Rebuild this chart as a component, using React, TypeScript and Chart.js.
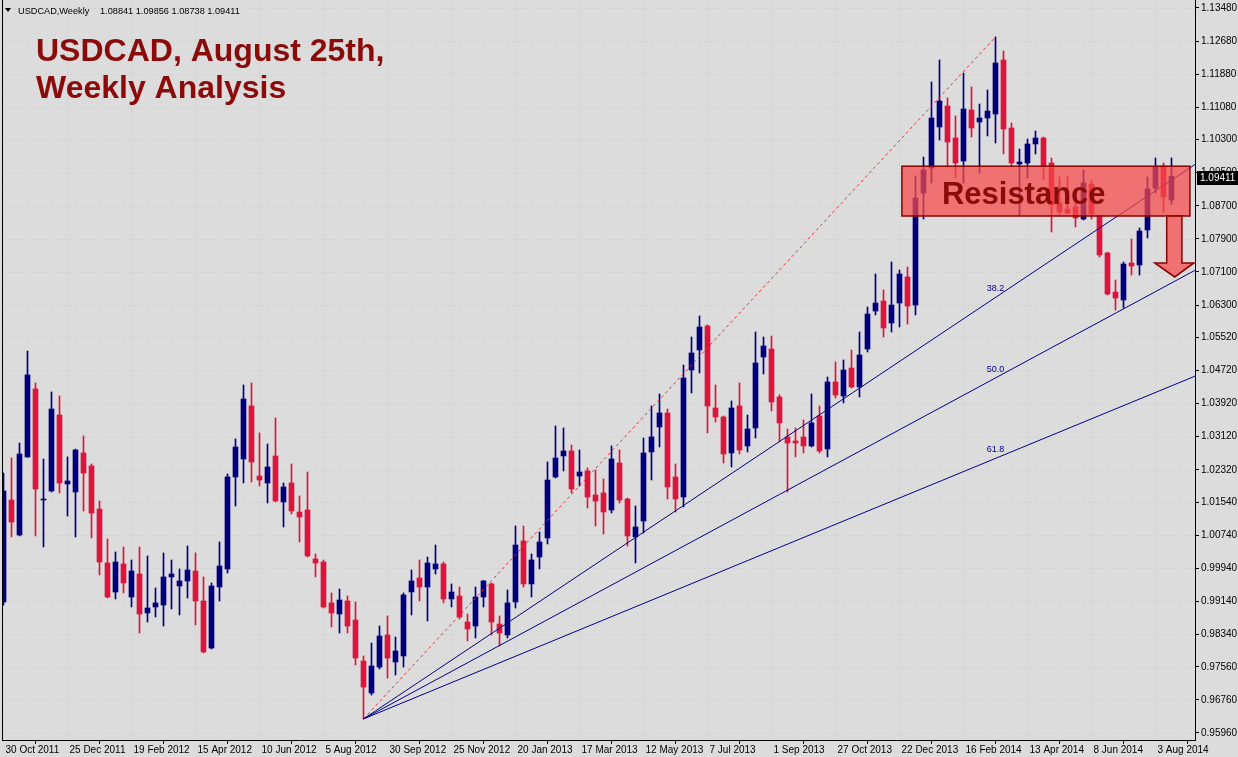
import React, { useEffect, useRef } from 'react';
import { Chart, registerables } from 'chart.js';

Chart.register(...registerables);

// Weekly USDCAD candles, first week = 30 Oct 2011 (index 0), last = 17 Aug 2014
const OPEN = [
  0.99126, 1.0159, 1.00745, 1.0263, 1.04273, 1.0159, 1.01808, 1.03644, 1.01977, 1.01784,
  1.02727, 1.02412, 1.01372, 1.00068, 0.99367, 1.00044, 0.99246, 0.99802, 0.9886, 0.99005,
  0.99053, 0.9973, 0.99512, 0.99633, 0.99874, 0.9915, 0.98013, 0.99488, 0.99923, 1.02146,
  1.02581, 1.03862, 1.0217, 1.02001, 1.02654, 1.01542, 1.02001, 1.013, 1.01348, 1.00165,
  1.00092, 0.99102, 0.98835, 0.9915, 0.9869, 0.97699, 0.96926, 0.97554, 0.98328, 0.97675,
  0.9782, 0.99367, 0.99705, 0.99488, 0.99923, 1.00044, 0.99198, 0.9927, 0.98642, 0.98545,
  0.99246, 0.99561, 0.98594, 0.98328, 0.99126, 1.006, 0.99561, 1.00213, 1.00672, 1.02146,
  1.02654, 1.02775, 1.0217, 1.02291, 1.01711, 1.0176, 1.01348, 1.02484, 1.01614, 1.00697,
  1.01082, 1.02751, 1.03355, 1.03693, 1.02146, 1.01663, 1.04732, 1.05215, 1.05795, 1.03814,
  1.03596, 1.02727, 1.03862, 1.02896, 1.03331, 1.05046, 1.05239, 1.04079, 1.03113, 1.03017,
  1.03113, 1.02896, 1.0362, 1.02823, 1.04442, 1.04104, 1.0478, 1.04321, 1.05239, 1.06157,
  1.06399, 1.05868, 1.0635, 1.06979, 1.06302, 1.09009, 1.09613, 1.10604, 1.11111, 1.10338,
  1.09782, 1.11015, 1.10725, 1.10821, 1.10918, 1.12223, 1.1058, 1.0971, 1.09734, 1.10193,
  1.10338, 1.09734, 1.08767, 1.08622, 1.08671, 1.08381, 1.09227, 1.08453, 1.07559, 1.06616,
  1.06423, 1.07317, 1.07269, 1.08115, 1.0913, 1.09661, 1.08841,
];
const HIGH = [
  1.02242, 1.02605, 1.02968, 1.05191, 1.04418, 1.02581, 1.04201, 1.04104, 1.0263, 1.0282,
  1.03138, 1.0246, 1.01566, 1.00648, 1.00334, 1.00455, 1.0014, 1.00455, 1.00237, 0.99464,
  1.0031, 1.0014, 0.99923, 1.00479, 1.0031, 0.9973, 0.99585, 1.00576, 1.02218, 1.03065,
  1.0437, 1.04418, 1.0321, 1.02944, 1.03572, 1.02001, 1.0246, 1.01687, 1.02267, 1.00286,
  1.0014, 0.99343, 0.9944, 0.9927, 0.99126, 0.9782, 0.98134, 0.98545, 0.98787, 0.98279,
  0.99343, 0.99899, 1.0014, 1.00213, 1.00503, 1.00092, 0.99561, 0.99488, 0.98835, 0.99488,
  0.9965, 0.99585, 0.98787, 0.99416, 1.00962, 1.00962, 1.00286, 1.00817, 1.02509, 1.03379,
  1.03331, 1.0292, 1.02799, 1.02364, 1.02315, 1.02098, 1.02896, 1.02799, 1.01638, 1.01445,
  1.03089, 1.03862, 1.04152, 1.03789, 1.0246, 1.04853, 1.05529, 1.06037, 1.05819, 1.0437,
  1.0362, 1.03983, 1.04418, 1.03644, 1.0565, 1.05529, 1.05553, 1.04128, 1.03306, 1.03331,
  1.03524, 1.04152, 1.03862, 1.04563, 1.04925, 1.04974, 1.05215, 1.0565, 1.06254, 1.07052,
  1.06665, 1.07342, 1.07148, 1.07221, 1.0942, 1.09879, 1.11691, 1.12223, 1.11305, 1.1087,
  1.11909, 1.11571, 1.1116, 1.11498, 1.1278, 1.12441, 1.10701, 1.10073, 1.10314, 1.10507,
  1.10362, 1.09855, 1.09396, 1.0942, 1.0884, 1.09565, 1.09323, 1.08477, 1.0758, 1.06907,
  1.07342, 1.07897, 1.08163, 1.09396, 1.09855, 1.09734, 1.09856,
];
const LOW = [
  0.99053, 1.00697, 1.00721, 1.0262, 1.00721, 1.00455, 1.01784, 1.0176, 1.01203, 1.00697,
  1.01324, 1.00673, 0.99778, 0.99222, 0.99198, 0.99343, 0.99005, 0.98376, 0.98642, 0.98763,
  0.98545, 0.98957, 0.98811, 0.99222, 0.98569, 0.97893, 0.97989, 0.9915, 0.99826, 1.01445,
  1.02001, 1.02025, 1.01929, 1.01518, 1.01545, 1.00939, 1.01251, 1.00576, 1.00213, 0.9973,
  0.98981, 0.98521, 0.98376, 0.98376, 0.97603, 0.963, 0.96878, 0.97506, 0.97289, 0.97361,
  0.97554, 0.98811, 0.9915, 0.98666, 0.99802, 0.99102, 0.99005, 0.98714, 0.98183, 0.98255,
  0.99005, 0.98328, 0.98062, 0.98255, 0.98981, 0.99488, 0.99246, 0.99923, 1.00527, 1.02122,
  1.02291, 1.0176, 1.01929, 1.01397, 1.00962, 1.00769, 1.01276, 1.01518, 1.00479, 1.00068,
  1.00793, 1.02073, 1.02871, 1.01614, 1.013, 1.01421, 1.04176, 1.0466, 1.0321, 1.03475,
  1.02484, 1.02388, 1.02702, 1.02751, 1.03089, 1.04635, 1.03741, 1.02992, 1.01784, 1.0263,
  1.02727, 1.02871, 1.02727, 1.0263, 1.04055, 1.03935, 1.04297, 1.04079, 1.05167, 1.06061,
  1.05529, 1.0565, 1.05771, 1.05843, 1.06061, 1.08381, 1.09251, 1.1029, 1.09637, 1.09371,
  1.09251, 1.10362, 1.09492, 1.10387, 1.10217, 1.09952, 1.09637, 1.08477, 1.09371, 1.09952,
  1.09323, 1.08067, 1.08477, 1.0851, 1.08187, 1.08357, 1.08381, 1.07462, 1.06544, 1.06182,
  1.0623, 1.07027, 1.07027, 1.07922, 1.09009, 1.0855, 1.08738,
];
const CLOSE = [
  1.01808, 1.01058, 1.02702, 1.04612, 1.01856, 1.01614, 1.03789, 1.02001, 1.0205, 1.02799,
  1.02242, 1.01275, 1.00092, 0.99246, 1.00092, 0.99585, 0.99874, 0.98835, 0.98981, 0.99102,
  0.9973, 0.99802, 0.99633, 0.99899, 0.9915, 0.97917, 0.99512, 0.99995, 1.02146, 1.02871,
  1.04031, 1.02509, 1.02073, 1.02388, 1.01566, 1.01905, 1.01324, 1.01179, 1.00237, 1.00068,
  0.99005, 0.9886, 0.99174, 0.98545, 0.97772, 0.9707, 0.97579, 0.98303, 0.97772, 0.97941,
  0.99295, 0.99633, 0.99488, 1.00068, 1.00044, 0.99198, 0.99367, 0.98763, 0.98473, 0.99246,
  0.99633, 0.98642, 0.98376, 0.99102, 1.00503, 0.99561, 1.0014, 1.00576, 1.02073, 1.02605,
  1.02775, 1.01856, 1.02267, 1.01663, 1.01566, 1.013, 1.02581, 1.0159, 1.00721, 1.00938,
  1.02727, 1.03114, 1.03693, 1.01905, 1.01614, 1.04539, 1.05143, 1.05771, 1.03862, 1.03596,
  1.02702, 1.03814, 1.02799, 1.03306, 1.04901, 1.05312, 1.03959, 1.03451, 1.02968, 1.02968,
  1.02896, 1.03451, 1.02775, 1.04442, 1.04128, 1.04732, 1.04321, 1.05094, 1.06085, 1.0635,
  1.05747, 1.06302, 1.07052, 1.06278, 1.08888, 1.09565, 1.10821, 1.11232, 1.10241, 1.09734,
  1.11039, 1.1058, 1.10821, 1.1099, 1.12151, 1.10556, 1.09734, 1.09758, 1.10193, 1.10338,
  1.09661, 1.08719, 1.0855, 1.08526, 1.08405, 1.09251, 1.08502, 1.07511, 1.06568, 1.06471,
  1.07293, 1.07245, 1.08091, 1.09106, 1.09637, 1.08912, 1.09411,
];

const X_TICK_INDEX = [0, 8, 16, 24, 32, 40, 48, 56, 64, 72, 80, 88, 96, 104, 112, 120, 128, 136, 144];
const X_TICK_LABELS = [
  '30 Oct 2011', '25 Dec 2011', '19 Feb 2012', '15 Apr 2012', '10 Jun 2012', '5 Aug 2012',
  '30 Sep 2012', '25 Nov 2012', '20 Jan 2013', '17 Mar 2013', '12 May 2013', '7 Jul 2013',
  '1 Sep 2013', '27 Oct 2013', '22 Dec 2013', '16 Feb 2014', '13 Apr 2014', '8 Jun 2014', '3 Aug 2014',
];
const Y_TICKS = [
  1.1348, 1.1268, 1.1188, 1.1108, 1.103, 1.095, 1.087, 1.079, 1.071, 1.063, 1.0552, 1.0472,
  1.0392, 1.0312, 1.0232, 1.0154, 1.0074, 0.9994, 0.9914, 0.9834, 0.9756, 0.9676, 0.9596,
];

// Fibonacci fan: from the Sep 2012 low to the Mar 2014 high
const FAN_FROM = { index: 45, price: 0.963 };
const FAN_TO = { index: 124, price: 1.1278 };
const FAN_LEVELS = [38.2, 50.0, 61.8];

// visible range of the axes
const X_MIN = -0.1875;
const X_MAX = 148.9375;
const Y_MIN = 0.9579;
const Y_MAX = 1.13673;

// resistance zone annotation (bar index / price)
const ZONE = { from: 112.3, to: 148.3, top: 1.09657, bottom: 1.08453 };
const ARROW = { shaftLeft: 145.4, shaftRight: 147.3, headLeft: 143.9, headRight: 148.8, tip: 146.4, neck: 1.0732, tipPrice: 1.0698 };

const UP = '#00007f';
const DOWN = '#dc143c';
const BG = '#dcdcdc';
const TITLE = '#8b0a0a';
const AXIS_FONT = '"Liberation Sans", Arial, sans-serif';

export default function App() {
  const ref = useRef<HTMLCanvasElement>(null);

  useEffect(() => {
    const canvas = ref.current;
    if (!canvas) return;
    const idx = OPEN.map((_, i) => i);
    const colors = idx.map((i) => (CLOSE[i] >= OPEN[i] ? UP : DOWN));
    const wicks = idx.map((i) => ({ x: i, y: [LOW[i], HIGH[i]] }));
    const bodies = idx.map((i) => ({ x: i, y: [OPEN[i], CLOSE[i]] }));

    const span = FAN_TO.index - FAN_FROM.index;
    const levelPrice = (lvl: number) => FAN_TO.price - (lvl / 100) * (FAN_TO.price - FAN_FROM.price);
    const fanAt = (lvl: number, x: number) =>
      FAN_FROM.price + ((levelPrice(lvl) - FAN_FROM.price) * (x - FAN_FROM.index)) / span;

    const fanSets = FAN_LEVELS.map((lvl) => ({
      type: 'line' as const,
      data: [
        { x: FAN_FROM.index, y: FAN_FROM.price },
        { x: X_MAX, y: fanAt(lvl, X_MAX) },
      ],
      borderColor: '#00008b',
      borderWidth: 1,
      pointRadius: 0,
      tension: 0,
      order: 1,
    }));

    const last = OPEN.length - 1;

    const overlay = {
      id: 'overlay',
      beforeDraw(chart: any) {
        const ctx = chart.ctx;
        ctx.save();
        ctx.fillStyle = BG;
        ctx.fillRect(0, 0, chart.width, chart.height);
        ctx.restore();
      },
      beforeDatasetsDraw(chart: any) {
        const { ctx, chartArea: a, scales } = chart;
        ctx.save();
        ctx.strokeStyle = '#cbcbcb';
        ctx.lineWidth = 1;
        ctx.setLineDash([1, 2]);
        Y_TICKS.forEach((v) => {
          const y = Math.round(scales.y.getPixelForValue(v)) + 0.5;
          ctx.beginPath();
          ctx.moveTo(a.left, y);
          ctx.lineTo(a.right, y);
          ctx.stroke();
        });
        X_TICK_INDEX.forEach((v) => {
          const x = Math.floor(scales.x.getPixelForValue(v)) + 0.5;
          ctx.beginPath();
          ctx.moveTo(x, a.top);
          ctx.lineTo(x, a.bottom);
          ctx.stroke();
        });
        ctx.restore();
      },
      afterDatasetsDraw(chart: any) {
        const { ctx, scales } = chart;
        const xs = scales.x;
        const ys = scales.y;
        ctx.save();
        // fan labels
        ctx.fillStyle = '#00008b';
        ctx.font = '9px ' + AXIS_FONT;
        ctx.textAlign = 'center';
        ctx.textBaseline = 'bottom';
        FAN_LEVELS.forEach((lvl) => {
          const px = xs.getPixelForValue(FAN_TO.index);
          const py = ys.getPixelForValue(levelPrice(lvl));
          ctx.fillText(lvl.toFixed(1), px, py - 4);
        });
        // resistance zone
        const l = xs.getPixelForValue(ZONE.from);
        const r = xs.getPixelForValue(ZONE.to);
        const t = ys.getPixelForValue(ZONE.top);
        const b = ys.getPixelForValue(ZONE.bottom);
        ctx.fillStyle = 'rgba(246, 72, 72, 0.72)';
        ctx.fillRect(l, t, r - l, b - t);
        ctx.strokeStyle = '#8b0000';
        ctx.lineWidth = 1.5;
        ctx.strokeRect(l, t, r - l, b - t);
        // arrow
        const sl = xs.getPixelForValue(ARROW.shaftLeft);
        const sr = xs.getPixelForValue(ARROW.shaftRight);
        const hl = xs.getPixelForValue(ARROW.headLeft);
        const hr = xs.getPixelForValue(ARROW.headRight);
        const tx = xs.getPixelForValue(ARROW.tip);
        const ny = ys.getPixelForValue(ARROW.neck);
        const ty = ys.getPixelForValue(ARROW.tipPrice);
        ctx.beginPath();
        ctx.moveTo(sl, b);
        ctx.lineTo(sl, ny);
        ctx.lineTo(hl, ny);
        ctx.lineTo(tx, ty);
        ctx.lineTo(hr, ny);
        ctx.lineTo(sr, ny);
        ctx.lineTo(sr, b);
        ctx.closePath();
        ctx.fill();
        ctx.stroke();
        // label
        ctx.fillStyle = TITLE;
        ctx.font = 'bold 31px ' + AXIS_FONT;
        ctx.textAlign = 'left';
        ctx.textBaseline = 'alphabetic';
        ctx.fillText('Resistance', l + 40, b - 12);
        ctx.restore();
      },
      afterDraw(chart: any) {
        const { ctx, chartArea: a, scales } = chart;
        ctx.save();
        // left frame line
        ctx.strokeStyle = '#000';
        ctx.lineWidth = 1;
        ctx.beginPath();
        ctx.moveTo(a.left + 0.5, 0);
        ctx.lineTo(a.left + 0.5, a.bottom);
        ctx.stroke();
        // header
        ctx.fillStyle = '#000';
        ctx.beginPath();
        ctx.moveTo(5, 8);
        ctx.lineTo(11, 8);
        ctx.lineTo(8, 12);
        ctx.closePath();
        ctx.fill();
        ctx.font = '9.2px ' + AXIS_FONT;
        ctx.textBaseline = 'alphabetic';
        ctx.textAlign = 'left';
        ctx.fillText('USDCAD,Weekly', 18, 14);
        ctx.fillText(
          [OPEN[last], HIGH[last], LOW[last], CLOSE[last]].map((v) => v.toFixed(5)).join(' '),
          100,
          14
        );
        // title
        ctx.fillStyle = TITLE;
        ctx.font = 'bold 32px ' + AXIS_FONT;
        ctx.fillText('USDCAD, August 25th,', 36, 61);
        ctx.fillText('Weekly Analysis', 36, 98);
        // current price tag
        const py = Math.round(scales.y.getPixelForValue(CLOSE[last])) + 2;
        ctx.fillStyle = '#000';
        ctx.fillRect(a.right + 2, py - 7, 42, 14);
        ctx.fillStyle = '#fff';
        ctx.font = '10px ' + AXIS_FONT;
        ctx.textBaseline = 'middle';
        ctx.fillText(CLOSE[last].toFixed(5), a.right + 5, py);
        ctx.restore();
      },
    };

    const chart = new Chart(canvas, {
      type: 'bar',
      data: {
        datasets: [
          ...fanSets,
          {
            type: 'line' as const,
            data: [
              { x: FAN_FROM.index, y: FAN_FROM.price },
              { x: FAN_TO.index, y: FAN_TO.price },
            ],
            borderColor: '#e8322d',
            borderWidth: 1,
            borderDash: [3, 3],
            pointRadius: 0,
            tension: 0,
            order: 1,
          },
          {
            type: 'bar' as const,
            data: wicks as any,
            backgroundColor: colors,
            barThickness: 1,
            grouped: false,
            order: 3,
          },
          {
            type: 'bar' as const,
            data: bodies as any,
            backgroundColor: colors,
            barThickness: 5,
            minBarLength: 1,
            grouped: false,
            order: 2,
          },
        ] as any,
      },
      options: {
        animation: false,
        responsive: false,
        devicePixelRatio: 1,
        events: [],
        layout: { padding: { left: 2, top: 0, right: 0, bottom: 0 } },
        plugins: { legend: { display: false }, tooltip: { enabled: false } },
        scales: {
          x: {
            type: 'linear',
            min: X_MIN,
            max: X_MAX,
            offset: false,
            afterBuildTicks: (s: any) => {
              s.ticks = X_TICK_INDEX.map((v) => ({ value: v }));
            },
            afterFit: (s: any) => {
              s.height = 17;
              s.paddingLeft = 0;
              s.paddingRight = 0;
            },
            ticks: {
              autoSkip: false,
              maxRotation: 0,
              minRotation: 0,
              align: 'start',
              labelOffset: 2,
              padding: 0,
              color: '#000',
              font: { family: AXIS_FONT, size: 10 },
              callback: (_v: any, i: number) => X_TICK_LABELS[i],
            },
            grid: { drawOnChartArea: false, drawTicks: true, tickLength: 4, tickColor: '#000' },
            border: { display: true, color: '#000', width: 1 },
          },
          y: {
            type: 'linear',
            position: 'right',
            min: Y_MIN,
            max: Y_MAX,
            afterBuildTicks: (s: any) => {
              s.ticks = Y_TICKS.map((v) => ({ value: v }));
            },
            afterFit: (s: any) => {
              s.width = 43;
              s.paddingTop = 0;
              s.paddingBottom = 0;
            },
            ticks: {
              autoSkip: false,
              padding: 2,
              color: '#000',
              font: { family: AXIS_FONT, size: 10 },
              callback: (v: any) => Number(v).toFixed(5),
            },
            grid: { drawOnChartArea: false, drawTicks: true, tickLength: 4, tickColor: '#000' },
            border: { display: true, color: '#000', width: 1 },
          },
        },
      } as any,
      plugins: [overlay],
    });

    return () => chart.destroy();
  }, []);

  return (
    <div style={{ position: 'absolute', left: 0, top: 0, width: 1238, height: 757 }}>
      <canvas ref={ref} width={1238} height={757} style={{ display: 'block' }} />
    </div>
  );
}
